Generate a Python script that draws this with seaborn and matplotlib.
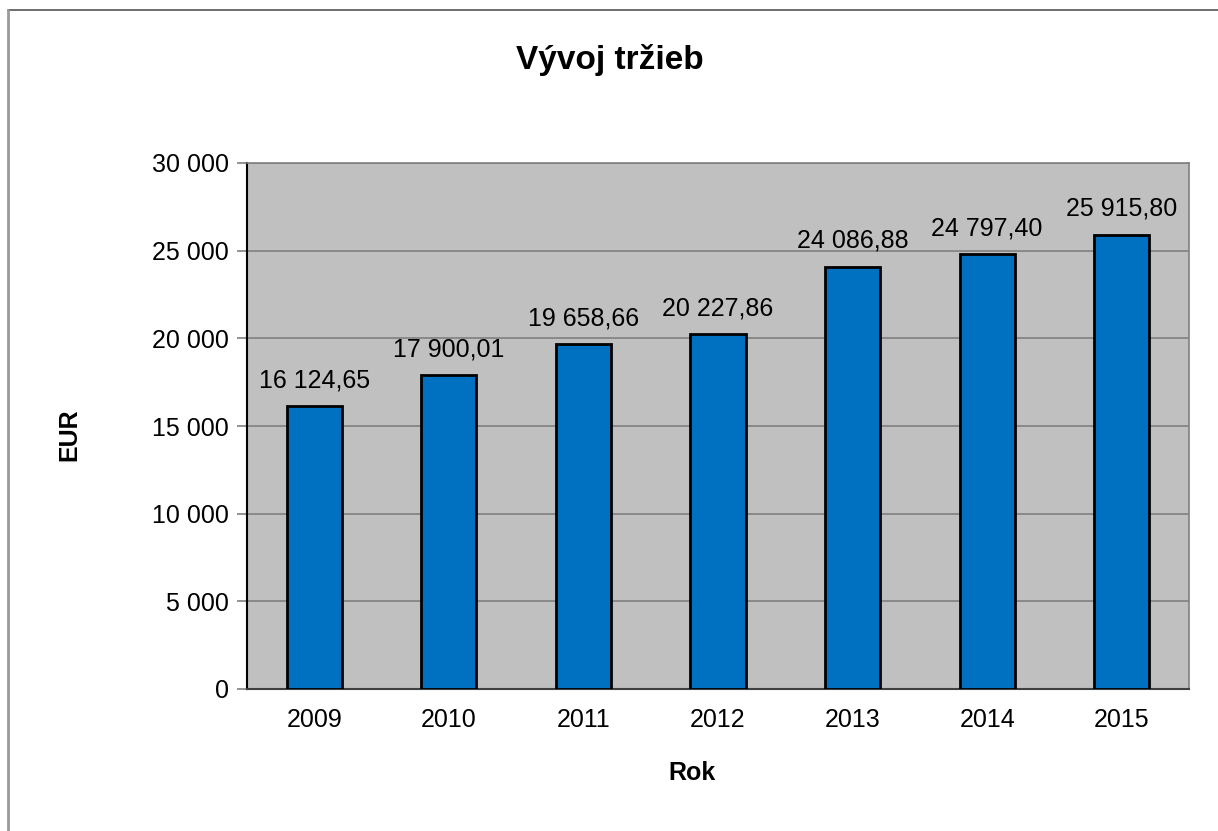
import matplotlib
matplotlib.use("Agg")
import matplotlib.pyplot as plt
import matplotlib.ticker as mticker
from matplotlib.lines import Line2D
import pandas as pd
import seaborn as sns

years = ["2009", "2010", "2011", "2012", "2013", "2014", "2015"]
sales = [16124.65, 17900.01, 19658.66, 20227.86, 24086.88, 24797.40, 25915.80]
title = "Vývoj tržieb"
xlabel = "Rok"
ylabel = "EUR"


def sk_format(v, decimals=0):
    s = f"{v:,.{decimals}f}"
    return s.replace(",", " ").replace(".", ",")


df = pd.DataFrame({"year": years, "sales": sales})

sns.set_style("white")
plt.rcParams["font.family"] = ["Liberation Sans", "DejaVu Sans"]
plt.rcParams["text.color"] = "black"
plt.rcParams["axes.labelcolor"] = "black"

W, H = 1218, 831
fig = plt.figure(figsize=(W / 100, H / 100), dpi=100)
ax = fig.add_axes([247 / W, (H - 689) / H, (1189 - 247) / W, (689 - 163) / H])
ax.set_facecolor("#C0C0C0")

sns.barplot(data=df, x="year", y="sales", color="#0070C0", saturation=1,
            edgecolor="black", linewidth=2, width=0.41, ax=ax, zorder=3)

ax.set_xlim(-0.5, len(years) - 0.5)
ax.set_ylim(0, 30000)
ax.yaxis.set_major_locator(mticker.MultipleLocator(5000))
ax.yaxis.set_major_formatter(mticker.FuncFormatter(lambda v, p: sk_format(v)))
ax.grid(axis="y", color="#808080", linewidth=1.2, zorder=1)
ax.set_axisbelow(True)

ax.set_xticks(range(len(years)))
ax.set_xticklabels(years)
ax.set_xticks([i + 0.5 for i in range(-1, len(years))], minor=True)
ax.tick_params(axis="x", which="major", length=0, pad=14, labelsize=18, labelcolor="black")
ax.tick_params(axis="x", which="minor", length=7, width=1.2, color="#808080", direction="out")
ax.tick_params(axis="y", length=7, width=1.2, color="#808080", direction="out",
               pad=6, labelsize=18, left=True, labelcolor="black")

for side in ["top", "right"]:
    ax.spines[side].set_visible(True)
    ax.spines[side].set_color("#808080")
    ax.spines[side].set_linewidth(1.2)
ax.spines["left"].set_color("black")
ax.spines["left"].set_linewidth(1.5)
ax.spines["bottom"].set_color("#404040")
ax.spines["bottom"].set_linewidth(1.5)

for i, v in enumerate(sales):
    ax.annotate(sk_format(v, 2), (i, v), xytext=(0, 10), textcoords="offset points",
                ha="center", va="bottom", fontsize=18, color="black", zorder=4)

ax.set_xlabel("")
ax.set_ylabel("")
fig.text(610 / W, 1 - 60 / H, title, ha="center", va="center", fontsize=24,
         fontweight="bold", color="black")
fig.text(69 / W, 1 - 435 / H, ylabel, ha="center", va="center", rotation=90,
         fontsize=18, fontweight="bold", color="black")
fig.text(692 / W, 1 - 773 / H, xlabel, ha="center", va="center", fontsize=18,
         fontweight="bold", color="black")

# outer chart-area border (only top and left are visible in the reference)
fig.add_artist(Line2D([8 / W, 1], [1 - 10 / H, 1 - 10 / H], transform=fig.transFigure,
                      color="#555555", linewidth=1.2))
fig.add_artist(Line2D([8 / W, 8 / W], [0, 1 - 10 / H], transform=fig.transFigure,
                      color="#999999", linewidth=2))

fig.savefig("out.png", dpi=100)
